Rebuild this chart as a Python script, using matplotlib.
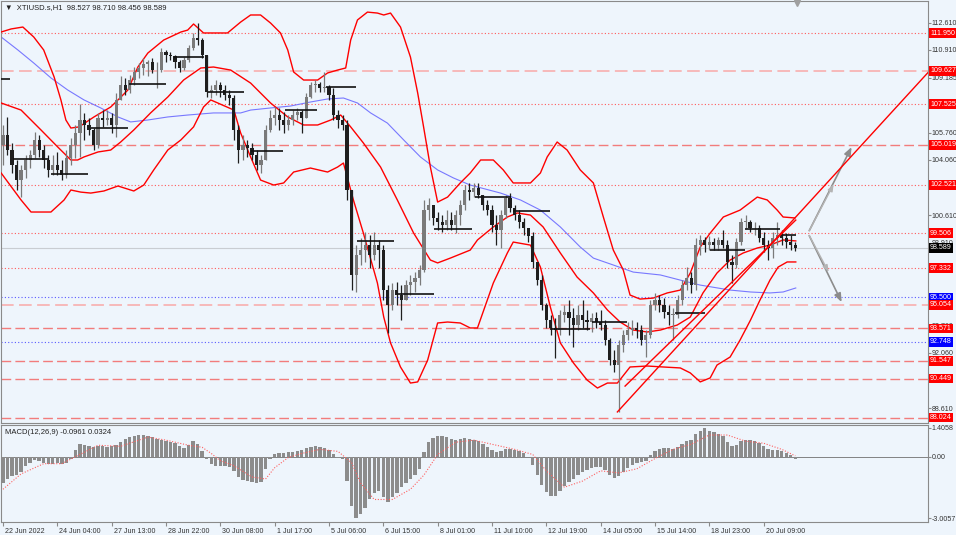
import numpy as np
import matplotlib.pyplot as plt
import matplotlib.transforms as mtransforms

plt.rcParams['font.family'] = ['Liberation Sans', 'DejaVu Sans']

# XTIUSD H1 (one entry ~ 2 hourly bars)
high = [106.24, 106.74, 105.12, 104.06, 103.75, 104.37, 104.68, 105.80, 105.62, 104.99,
        104.37, 104.37, 104.56, 104.06, 104.68, 105.43, 106.24, 107.55, 106.99, 106.68,
        106.05, 106.99, 107.17, 107.17, 106.99, 108.23, 109.29, 109.17, 109.35, 109.85,
        110.10, 110.41, 110.29, 110.41, 110.16, 111.03, 110.91, 110.78, 110.60, 110.29,
        110.47, 111.22, 111.97, 112.59, 111.66, 110.60, 108.73, 109.04, 108.92, 108.73,
        108.42, 108.11, 106.24, 105.62, 105.31, 105.12, 104.68, 104.37, 106.24, 107.17,
        107.36, 107.30, 107.05, 106.86, 107.17, 107.30, 107.17, 108.23, 108.92, 109.04,
        108.92, 109.54, 108.73, 108.54, 107.17, 106.86, 106.55, 102.19, 98.76, 99.20,
        99.57, 99.39, 99.57, 99.08, 98.76, 96.27, 96.40, 96.46, 96.27, 96.58,
        96.90, 97.08, 97.52, 101.57, 101.69, 101.26, 100.82, 100.63, 100.94, 100.82,
        100.94, 101.57, 102.50, 102.63, 102.63, 102.63, 101.88, 101.57, 101.26, 100.63,
        100.94, 101.88, 102.00, 101.26, 100.94, 100.45, 99.82, 99.57, 97.71, 96.90,
        95.15, 94.41, 94.22, 94.72, 95.03, 95.34, 94.84, 95.03, 95.34, 94.72,
        94.53, 94.59, 94.72, 94.09, 92.97, 92.23, 92.85, 93.47, 93.97, 94.09,
        93.97, 93.78, 93.47, 95.34, 95.78, 95.65, 95.46, 95.03, 94.84, 95.65,
        96.58, 97.39, 97.08, 99.20, 99.39, 99.26, 99.32, 99.20, 99.26, 99.70,
        99.08, 98.14, 99.20, 100.45, 100.63, 100.32, 100.20, 100.01, 99.57, 99.08,
        99.57, 100.20, 99.70, 99.51, 99.39, 98.95]
low = [103.75, 104.37, 103.25, 102.19, 101.75, 102.94, 103.56, 104.18, 104.25, 103.56,
       103.00, 103.12, 103.12, 102.81, 102.94, 103.75, 104.18, 104.25, 105.31, 105.62,
       104.68, 104.81, 106.12, 106.24, 105.74, 105.49, 107.80, 108.11, 108.23, 108.73,
       109.17, 109.35, 109.29, 109.48, 108.54, 109.54, 110.16, 110.29, 109.79, 109.54,
       109.66, 110.16, 110.91, 111.22, 110.41, 107.98, 107.92, 108.11, 107.98, 107.80,
       107.49, 105.31, 103.87, 104.06, 104.25, 104.06, 103.44, 103.25, 104.06, 105.80,
       106.24, 105.93, 105.74, 105.93, 106.24, 106.55, 105.74, 106.68, 107.92, 108.29,
       108.29, 108.29, 107.80, 106.55, 106.05, 105.93, 101.57, 95.96, 95.84, 97.52,
       97.71, 97.33, 97.83, 97.33, 95.34, 93.28, 94.72, 95.03, 94.09, 95.34,
       95.65, 95.84, 96.27, 97.08, 100.32, 100.01, 99.70, 99.57, 99.70, 99.70,
       99.51, 100.01, 100.94, 101.57, 101.75, 101.69, 100.94, 100.63, 99.57, 98.76,
       98.58, 100.45, 100.82, 100.32, 99.82, 99.39, 98.95, 97.33, 96.27, 94.72,
       93.60, 93.16, 91.73, 93.16, 93.97, 93.16, 92.41, 93.47, 93.60, 93.47,
       93.35, 93.60, 93.47, 92.54, 91.29, 90.86, 88.37, 92.10, 92.85, 93.16,
       92.97, 92.54, 91.79, 92.97, 94.72, 94.59, 94.22, 93.78, 92.85, 94.22,
       95.03, 95.96, 95.78, 95.96, 98.14, 98.33, 98.45, 98.45, 98.45, 98.58,
       97.33, 96.40, 97.33, 98.76, 99.82, 99.57, 99.39, 98.95, 98.33, 97.83,
       97.95, 98.76, 98.76, 98.58, 98.45, 98.39]
close = [105.62, 104.68, 103.75, 102.81, 103.44, 104.06, 104.37, 105.31, 104.68, 104.06,
         103.44, 103.75, 103.44, 103.12, 104.18, 104.99, 105.74, 106.55, 106.24, 105.93,
         104.99, 106.68, 106.55, 106.68, 106.24, 107.80, 108.73, 108.42, 109.04, 109.54,
         109.79, 110.04, 110.16, 109.66, 109.66, 110.78, 110.60, 110.54, 110.16, 109.79,
         110.29, 111.03, 111.66, 111.53, 110.60, 108.29, 108.42, 108.73, 108.42, 108.11,
         107.92, 105.93, 104.68, 104.99, 104.81, 104.37, 103.75, 104.06, 105.93, 106.68,
         106.86, 106.55, 106.24, 106.55, 106.86, 107.05, 106.68, 107.98, 108.73, 108.79,
         108.54, 108.61, 108.11, 106.86, 106.55, 106.24, 102.19, 96.90, 98.14, 98.45,
         98.76, 98.14, 98.76, 98.45, 95.96, 95.03, 95.96, 95.65, 95.34, 96.27,
         96.46, 96.71, 97.21, 100.94, 101.26, 100.45, 100.20, 100.01, 100.32, 100.01,
         100.63, 101.26, 102.19, 102.06, 102.31, 101.88, 101.26, 100.94, 100.01, 99.70,
         100.63, 101.69, 101.07, 100.63, 100.20, 99.82, 99.32, 97.71, 96.58, 95.03,
         94.09, 93.60, 93.47, 94.41, 94.59, 94.22, 93.78, 94.41, 94.09, 93.97,
         94.22, 93.97, 93.78, 92.85, 91.60, 91.29, 92.54, 93.16, 93.47, 93.60,
         93.47, 92.85, 93.16, 95.03, 95.34, 95.03, 94.59, 94.41, 94.41, 95.34,
         96.27, 96.71, 96.27, 98.76, 99.08, 98.76, 98.95, 98.76, 99.08, 98.76,
         97.71, 97.52, 98.95, 100.20, 100.20, 99.82, 99.82, 99.20, 98.76, 98.58,
         99.20, 99.39, 99.20, 98.95, 98.76, 98.589]
first_open = 105.00

# bollinger bands / moving average, (bar, price) points along the curves
bb_up_x = [-0.4, 1.8, 4.4, 6.8, 9.0, 11.3, 12.8, 13.9, 15.0, 16.8, 20.1, 23.8, 25.4, 27.6, 29.8,
           32.0, 35.5, 39.3, 40.8, 42.1, 44.3, 49.6, 52.5, 54.7, 56.9, 59.1, 61.3, 62.9, 64.2,
           66.4, 69.5, 71.7, 73.9, 75.7, 76.8, 78.3, 80.5, 82.7, 84.1, 85.6, 87.8, 90.0, 91.6,
           92.9, 94.4, 96.0, 98.2, 101.0, 103.2, 105.5, 108.3, 110.5, 112.7, 116.5, 118.7, 120.2,
           122.4, 124.6, 127.5, 130.4, 132.6, 134.8, 137.0, 138.5, 140.7, 143.6, 146.7, 149.6,
           151.8, 154.0, 156.2, 159.1, 162.8, 166.6, 168.8, 171.0, 172.3, 174.9]
bb_up = [112.03, 112.22, 112.34, 111.72, 110.91, 109.23, 107.80, 106.55, 106.05, 106.12, 106.74,
         107.36, 107.80, 108.42, 109.85, 110.72, 111.53, 112.03, 112.15, 112.53, 111.97, 111.97,
         112.65, 113.09, 113.09, 112.59, 111.97, 110.91, 109.54, 109.04, 109.04, 109.48, 109.66,
         109.79, 111.53, 112.78, 113.27, 113.21, 113.09, 113.21, 112.34, 110.47, 108.23, 106.12,
         103.62, 101.44, 101.75, 102.63, 103.25, 104.06, 104.06, 103.44, 102.63, 102.63, 103.25,
         104.25, 105.18, 104.68, 103.44, 102.63, 100.51, 98.45, 97.21, 95.65, 95.40, 95.46,
         95.78, 95.96, 97.02, 98.64, 99.51, 100.51, 100.94, 101.75, 101.57, 100.94, 100.51, 100.45]
bb_mid_x = [-0.4, 4.0, 8.4, 12.1, 15.0, 16.5, 17.9, 21.0, 23.8, 26.0, 28.9, 32.6, 36.4, 39.9,
            43.7, 46.5, 50.3, 54.7, 59.1, 62.9, 66.4, 69.5, 72.4, 74.6, 76.8, 79.6, 83.4, 87.1,
            90.7, 94.4, 96.0, 98.8, 103.2, 104.8, 108.3, 111.4, 113.6, 116.5, 119.3, 123.1,
            126.8, 130.4, 133.5, 136.3, 139.2, 142.3, 145.2, 148.9, 151.8, 154.6, 157.7, 160.6,
            163.5, 166.6, 169.4, 172.3, 175.1]
bb_mid = [107.61, 107.17, 105.93, 104.87, 104.06, 104.06, 104.25, 104.56, 104.68, 105.18, 105.93,
          106.99, 107.98, 109.04, 109.79, 109.85, 109.66, 108.85, 107.61, 106.74, 106.24, 106.24,
          106.55, 106.86, 106.12, 105.12, 103.62, 101.57, 99.51, 97.83, 97.65, 97.95, 98.45,
          99.08, 99.89, 100.51, 100.76, 100.63, 99.89, 98.27, 96.77, 95.78, 94.72, 93.97, 93.47,
          93.35, 93.47, 93.78, 94.28, 95.78, 97.02, 97.83, 98.27, 98.58, 98.76, 99.08, 99.02]
bb_low_x = [-0.4, 4.0, 6.2, 10.6, 13.5, 15.0, 17.2, 19.4, 22.3, 25.4, 28.9, 31.1, 33.3, 36.4,
            39.3, 42.1, 44.3, 45.9, 51.0, 52.5, 54.7, 56.9, 59.8, 62.0, 64.2, 67.9, 71.7, 73.9,
            75.2, 77.4, 79.6, 82.7, 84.1, 85.6, 87.8, 90.0, 91.6, 93.8, 96.0, 98.2, 101.0, 103.2,
            104.8, 108.3, 111.4, 112.7, 116.5, 118.7, 120.9, 123.1, 126.0, 129.0, 131.3, 133.5,
            135.7, 138.5, 142.3, 145.8, 149.6, 151.8, 154.0, 156.2, 157.7, 160.6, 162.8, 165.1,
            167.2, 169.4, 171.2, 173.2, 175.1]
bb_low = [103.25, 101.57, 100.82, 100.82, 101.57, 102.19, 102.06, 102.00, 102.13, 102.44, 102.13,
          102.50, 103.44, 104.68, 105.31, 106.12, 107.36, 107.80, 107.17, 105.74, 104.25, 102.81,
          102.50, 102.63, 103.31, 103.56, 103.31, 103.62, 103.87, 101.57, 99.51, 96.40, 94.28,
          92.67, 91.17, 90.17, 90.24, 91.60, 93.91, 93.97, 93.91, 93.60, 93.60, 96.40, 98.27,
          98.95, 98.76, 97.39, 94.90, 92.67, 91.42, 90.36, 89.86, 90.17, 90.17, 91.17, 91.23,
          91.17, 91.11, 90.80, 90.24, 90.49, 91.29, 91.79, 92.85, 94.09, 95.34, 96.58, 97.39,
          97.71, 97.71]
ma_x = [-0.4, 3.3, 6.8, 10.6, 14.3, 17.9, 21.6, 25.4, 28.2, 32.0, 36.4, 40.8, 46.5, 52.5, 54.7,
        59.1, 63.5, 67.9, 71.7, 75.2, 78.3, 81.2, 84.9, 88.5, 92.2, 96.0, 99.5, 103.2, 109.9,
        114.3, 118.7, 123.1, 127.5, 130.4, 134.8, 139.2, 145.2, 149.6, 154.0, 160.6, 165.1,
        169.4, 172.3, 175.1]
ma = [111.72, 110.91, 110.10, 109.17, 108.42, 107.80, 107.30, 106.74, 106.43, 106.55, 106.74,
      106.86, 106.99, 106.99, 107.17, 107.30, 107.42, 107.67, 107.86, 107.92, 107.61, 106.99,
      106.36, 105.31, 104.25, 103.44, 102.94, 102.50, 102.00, 101.57, 100.94, 99.89, 98.64,
      97.95, 97.52, 97.08, 96.90, 96.58, 96.27, 95.96, 95.84, 95.78, 95.84, 96.09]

# daily open segments (start bar, end bar, price)
seg_start = [-0.4, 2.2, 10.6, 19.4, 27.8, 37.7, 45.2, 54.7, 62.4, 71.3, 78.3, 87.1, 95.1,
             104.3, 112.7, 120.9, 130.2, 148.5, 156.2, 163.9, 171.6]
seg_end = [1.5, 10.1, 18.8, 27.6, 36.0, 44.3, 53.2, 61.8, 69.3, 77.9, 86.3, 95.1, 103.7,
           112.1, 120.9, 129.7, 137.9, 155.1, 163.9, 171.6, 175.1]
seg_price = [109.10, 104.12, 103.19, 106.05, 108.79, 110.47, 108.29, 104.62, 107.17, 108.60,
             99.02, 95.72, 99.76, 101.75, 100.88, 93.54, 93.97, 94.53, 98.45, 99.76, 99.39]

# horizontal levels
levels = [111.950, 109.627, 107.525, 105.019, 102.521, 99.506, 98.589, 97.332,
          95.500, 95.054, 93.571, 92.748, 91.547, 90.449, 88.024]
level_kind = ['rdot', 'pdash', 'rdot', 'rdash', 'rdot', 'rdot', 'cur', 'rdot',
              'bdot', 'pdash', 'rdash', 'bdot', 'rdash', 'rdash', 'rdash']

# trend lines and projection arrows (bar, price)
trend1 = ([135.7, 204.8], [88.37, 109.66])
trend2 = ([137.4, 175.1], [89.98, 100.32])
arrow_start = (177.8, 99.506)
arrow_up = (187.7, 105.019)
arrow_dn = (185.5, 95.054)

macd = [-1.30, -1.10, -0.95, -0.90, -0.75, -0.45, -0.30, -0.15, -0.20, -0.30,
        -0.35, -0.35, -0.30, -0.35, -0.30, -0.10, 0.30, 0.60, 0.55, 0.50,
        0.45, 0.50, 0.50, 0.45, 0.50, 0.55, 0.70, 0.85, 0.95, 1.00,
        1.05, 1.05, 1.00, 0.95, 0.85, 0.80, 0.75, 0.70, 0.65, 0.50,
        0.40, 0.55, 0.75, 0.60, 0.25, -0.10, -0.35, -0.45, -0.45, -0.45,
        -0.50, -0.70, -1.00, -1.15, -1.20, -1.25, -1.30, -1.25, -0.60, -0.10,
        0.10, 0.15, 0.15, 0.20, 0.20, 0.25, 0.30, 0.40, 0.45, 0.50,
        0.45, 0.40, 0.30, 0.10, -0.05, -0.10, -1.20, -2.40, -3.00, -2.80,
        -2.50, -2.10, -1.80, -1.70, -2.00, -2.20, -2.00, -1.80, -1.50, -1.30,
        -1.10, -0.90, -0.60, 0.20, 0.70, 0.90, 1.00, 1.00, 0.95, 0.85,
        0.80, 0.85, 0.90, 0.85, 0.80, 0.75, 0.60, 0.45, 0.30, 0.20,
        0.25, 0.35, 0.35, 0.30, 0.25, 0.15, 0.00, -0.40, -0.90, -1.40,
        -1.75, -1.95, -1.95, -1.70, -1.45, -1.25, -1.10, -0.90, -0.75, -0.65,
        -0.55, -0.50, -0.50, -0.65, -0.90, -1.05, -0.95, -0.75, -0.55, -0.40,
        -0.30, -0.25, -0.20, 0.05, 0.25, 0.35, 0.40, 0.40, 0.35, 0.45,
        0.60, 0.75, 0.80, 1.10, 1.25, 1.40, 1.25, 1.20, 1.10, 1.00,
        0.70, 0.50, 0.55, 0.75, 0.80, 0.80, 0.75, 0.65, 0.50, 0.35,
        0.30, 0.30, 0.25, 0.15, 0.05, -0.10]
sig_x = [0, 4, 9, 13, 17, 21, 26, 32, 36, 41, 44, 46, 48, 51, 55, 58, 60, 63, 66, 70, 74, 77,
         79, 82, 86, 90, 93, 96, 100, 104, 108, 113, 117, 120, 124, 128, 132, 136, 140, 144,
         148, 152, 156, 160, 164, 168, 172, 175]
sig = [-1.6, -0.85, -0.35, -0.35, 0.1, 0.55, 0.5, 0.95, 0.8, 0.55, 0.45, 0.15, -0.2, -0.45,
       -1.0, -1.1, -0.55, -0.05, 0.15, 0.35, 0.25, -0.3, -1.3, -2.1, -2.1, -1.6, -0.9, 0.1,
       0.7, 0.8, 0.6, 0.35, 0.1, -0.7, -1.5, -1.2, -0.7, -0.8, -0.6, -0.1, 0.35, 0.6, 1.05,
       1.05, 0.75, 0.65, 0.35, 0.03]

tick_bars = [0, 12, 24, 36, 48, 60, 72, 84, 96, 108, 120, 132, 144, 156, 168]
tick_text = ['22 Jun 2022', '24 Jun 04:00', '27 Jun 13:00', '28 Jun 22:00', '30 Jun 08:00',
             '1 Jul 17:00', '5 Jul 06:00', '6 Jul 15:00', '8 Jul 01:00', '11 Jul 10:00',
             '12 Jul 19:00', '14 Jul 05:00', '15 Jul 14:00', '18 Jul 23:00', '20 Jul 09:00']
price_ticks = [112.610, 110.910, 109.185, 105.760, 104.060, 100.610, 98.910, 93.760, 92.060, 88.610]

bg = '#eef5fc'
fs = 5.1
fig = plt.figure(figsize=(9.56, 5.35), dpi=100)
fig.patch.set_facecolor(bg)
ax = fig.add_axes([0.001, 0.2093, 0.9697, 0.7888])
mx = fig.add_axes([0.001, 0.0243, 0.9697, 0.1813])
for a in (ax, mx):
    a.set_facecolor(bg)
    for s in a.spines.values():
        s.set_color('#8a8a8a')
        s.set_linewidth(0.8)
    a.set_xlim(-0.44, 204.3)
    a.yaxis.tick_right()
    a.tick_params(axis='y', labelsize=fs, length=1.8, colors='#8a8a8a', labelcolor='#333333', pad=0.8)

ax.set_ylim(87.68, 113.96)
ax.set_yticks(price_ticks)
ax.set_yticklabels(['%.3f' % v for v in price_ticks])
ax.set_xticks([])

# level lines
kind_style = {
    'rdot': dict(color='#ff5a5a', ls=(0, (1, 2)), lw=0.8),
    'pdash': dict(color='#f7b4b4', ls=(0, (7, 3)), lw=1.3),
    'rdash': dict(color='#f27c7c', ls=(0, (7, 3)), lw=1.0),
    'bdot': dict(color='#5a5aff', ls=(0, (1, 2)), lw=0.8),
    'cur': dict(color='#c9cdd2', ls='-', lw=0.8),
}
box_col = {'rdot': '#ff0000', 'pdash': '#ff0000', 'rdash': '#ff0000', 'bdot': '#0000ff', 'cur': '#000000'}
tr = mtransforms.blended_transform_factory(ax.transAxes, ax.transData)
for lv, k in zip(levels, level_kind):
    ax.axhline(lv, zorder=1, **kind_style[k])
    ax.text(1.0022, lv, '%.3f' % lv, transform=tr, fontsize=fs, color='white', va='center',
            ha='left', zorder=10, clip_on=False,
            bbox=dict(boxstyle='square,pad=0.2', fc=box_col[k], ec='none'))

# indicators
ax.plot(bb_up_x, bb_up, color='#ff0000', lw=1.0, zorder=3)
ax.plot(bb_mid_x, bb_mid, color='#ff0000', lw=1.0, zorder=3)
ax.plot(bb_low_x, bb_low, color='#ff0000', lw=1.0, zorder=3)
ax.plot(ma_x, ma, color='#7878ff', lw=0.8, zorder=2)

# candles
opens = [first_open] + close[:-1]
for i, (o, h, l, c) in enumerate(zip(opens, high, low, close)):
    col = '#7a7a7a' if c >= o else '#1e1e1e'
    ax.vlines(i, min(l, o, c), max(h, o, c), color=col, lw=0.9, zorder=4)
    ax.bar(i, max(abs(c - o), 0.03), bottom=min(o, c), width=0.7, color=col, lw=0, zorder=4)

ax.hlines(seg_price, seg_start, seg_end, color='#111111', lw=1.2, zorder=5)

ax.plot(trend1[0], trend1[1], color='#ff0000', lw=1.0, zorder=6)
ax.plot(trend2[0], trend2[1], color='#ff0000', lw=1.0, zorder=6)

for end in (arrow_up, arrow_dn):
    ax.annotate('', xy=end, xytext=arrow_start,
                arrowprops=dict(arrowstyle='-|>,head_length=0.5,head_width=0.2', color='#8c8c8c', lw=1.2))
    mid = ((arrow_start[0] + end[0]) / 2 + 1.0, arrow_start[1] + (end[1] - arrow_start[1]) * 0.58)
    ax.annotate('', xy=mid, xytext=arrow_start,
                arrowprops=dict(arrowstyle='-|>,head_length=0.4,head_width=0.15', color='#b4b4b4', lw=1.0))

ax.plot([175.4], [113.85], marker='v', color='#a0a0a0', ms=5, clip_on=False, zorder=8)
ax.text(0.004, 0.993, '\u25bc  XTIUSD.s,H1  98.527 98.710 98.456 98.589', transform=ax.transAxes,
        fontsize=5.5, color='#222222', va='top', ha='left')

# MACD panel
mx.set_ylim(-3.20, 1.54)
mx.bar(range(len(macd)), macd, width=0.75, color='#8c8c8c', lw=0, zorder=2)
mx.axhline(0, color='#707070', lw=0.6, zorder=1)
mx.plot(sig_x, sig, color='#ff6060', lw=0.8, ls=(0, (1, 1.5)), zorder=3)
mx.set_yticks([1.4058, 0.0, -3.0057])
mx.set_yticklabels(['1.4058', '0.00', '-3.0057'])
mx.text(0.004, 0.96, 'MACD(12,26,9) -0.0961 0.0324', transform=mx.transAxes,
        fontsize=5.5, color='#222222', va='top', ha='left')
mx.set_xticks(tick_bars)
mx.set_xticklabels(tick_text, ha='left')
mx.tick_params(axis='x', labelsize=fs, length=3, colors='#8a8a8a', labelcolor='#333333', pad=1)
for lab in mx.get_xticklabels():
    lab.set_transform(lab.get_transform() + mtransforms.ScaledTranslation(0.02, 0, fig.dpi_scale_trans))

fig.savefig('out.png', dpi=100, facecolor=bg)
